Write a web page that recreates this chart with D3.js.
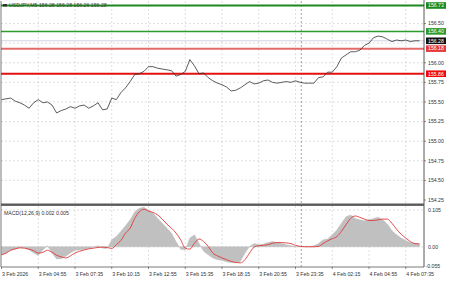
<!DOCTYPE html>
<html><head><meta charset="utf-8">
<script src="https://cdn.jsdelivr.net/npm/d3@7"></script>
<style>html,body{margin:0;padding:0;background:#fff;overflow:hidden}</style>
</head><body><svg id="c" width="450" height="281"></svg>
<script>
// ---------------- DATA ----------------
const symbolTitle = "USDJPY,M5  156.28 156.28 156.26 156.28";
const macdTitle = "MACD(12,26,9) 0.002 0.005";
const sampleStep = 4;          // 5-minute bars per sample
const barsPerLabel = 32;       // bars between time labels
const timeLabels = ["3 Feb 2026","3 Feb 04:55","3 Feb 07:35","3 Feb 10:15","3 Feb 12:55","3 Feb 15:35",
                    "3 Feb 18:15","3 Feb 20:55","3 Feb 23:35","4 Feb 02:15","4 Feb 04:55","4 Feb 07:35"];
const daySeparatorBar = 261;

const priceValues = [
 155.53,155.54,155.55,155.51,155.49,155.46,155.42,155.49,155.53,155.49,
 155.50,155.46,155.36,155.39,155.41,155.44,155.42,155.45,155.46,155.42,
 155.45,155.49,155.40,155.41,155.55,155.53,155.62,155.68,155.76,155.85,
 155.86,155.89,155.95,155.95,155.93,155.92,155.91,155.90,155.83,155.85,
 155.89,156.04,155.96,155.86,155.87,155.81,155.77,155.74,155.72,155.69,
 155.64,155.65,155.68,155.72,155.76,155.73,155.74,155.77,155.78,155.75,
 155.74,155.75,155.76,155.75,155.77,155.75,155.74,155.74,155.74,155.81,
 155.82,155.88,155.88,155.95,156.06,156.10,156.14,156.14,156.16,156.22,
 156.25,156.32,156.34,156.33,156.30,156.27,156.29,156.28,156.29,156.27,
 156.28,156.28
];
const macdHist = [
 -0.023,-0.018,-0.010,-0.007,-0.002,-0.003,-0.009,-0.018,-0.025,-0.009,
 0.003,-0.018,-0.035,-0.034,-0.027,-0.018,-0.010,-0.009,-0.007,-0.004,
 -0.001,0.003,-0.004,-0.005,0.020,0.029,0.044,0.060,0.077,0.100,
 0.110,0.113,0.105,0.096,0.081,0.067,0.053,0.039,0.015,-0.007,
 -0.009,0.025,0.034,0.010,-0.013,-0.023,-0.032,-0.037,-0.039,-0.043,
 -0.045,-0.046,-0.042,-0.018,0.001,0.009,0.006,0.008,0.012,0.015,
 0.012,0.009,0.006,0.003,0.001,0.000,0.001,0.001,0.003,0.009,
 0.020,0.022,0.034,0.048,0.067,0.086,0.091,0.081,0.077,0.074,
 0.077,0.081,0.084,0.077,0.065,0.046,0.034,0.025,0.018,0.012,
 0.009,0.008
];
const macdSignal = [
 -0.023,-0.018,-0.010,-0.006,-0.003,-0.004,-0.007,-0.011,-0.018,-0.016,
 -0.010,-0.016,-0.024,-0.029,-0.032,-0.026,-0.018,-0.013,-0.009,-0.006,
 -0.004,-0.002,-0.001,-0.002,-0.005,0.006,0.018,0.039,0.053,0.081,
 0.100,0.107,0.102,0.098,0.091,0.079,0.065,0.053,0.039,0.020,
 -0.004,-0.007,0.010,0.022,0.015,0.001,-0.018,-0.026,-0.032,-0.037,
 -0.042,-0.045,-0.046,-0.037,-0.018,-0.001,0.003,0.004,0.006,0.010,
 0.012,0.012,0.011,0.009,0.004,0.001,0.000,0.000,0.000,0.001,
 0.009,0.017,0.023,0.029,0.044,0.063,0.081,0.088,0.084,0.079,
 0.075,0.075,0.077,0.079,0.079,0.067,0.050,0.036,0.025,0.015,
 0.009,0.008
];
const priceTickValues = [156.50,156.00,155.75,155.50,155.25,155.00,154.75,154.50,154.25];
const priceTickLabels = ["156.50","156.00","155.75","155.50","155.25","155.00","154.75","154.50","154.25"];
const gridPrices = [156.50,156.25,156.00,155.75,155.50,155.25,155.00,154.75,154.50];
const resistancePrices = [156.73,156.40];
const supportPrices = [156.18,155.86];
const lastPrice = 156.28;
const macdTickValues = [0.105,0.0,-0.055];
const macdTickLabels = ["0.105","0.00","-0.055"];

// ---------------- LAYOUT ----------------
const svg = d3.select("#c");
const FONT = "'Liberation Sans', Arial, sans-serif";
const plotL = 1, plotR = 424;
const mainTop = 1, mainBot = 203.5;
const macdTop = 206, macdBot = 267;

const x = d3.scaleLinear().domain([0, 384]).range([1.5, 1.5 + 36.75*12]);
const y = d3.scaleLinear().domain([154.25, 156.73]).range([200, 5.5]);
const ym = d3.scaleLinear().domain([-0.055, 0.105]).range([266, 210]);

svg.append("rect").attr("width",450).attr("height",281).attr("fill","#fff");

const defs = svg.append("defs");
defs.append("clipPath").attr("id","cm").append("rect")
  .attr("x",plotL).attr("y",mainTop).attr("width",plotR-plotL).attr("height",mainBot-mainTop);
defs.append("clipPath").attr("id","cd").append("rect")
  .attr("x",plotL).attr("y",macdTop).attr("width",plotR-plotL).attr("height",macdBot-macdTop);

// vertical grid
const tickBars = timeLabels.map((d,i)=>i*barsPerLabel);
const grid = svg.append("g").attr("stroke","#c9c9c9").attr("stroke-width",0.6).attr("stroke-dasharray","2,2");
tickBars.forEach(b=>{
  if (b===0) return;
  grid.append("line").attr("x1",x(b)).attr("x2",x(b)).attr("y1",mainTop).attr("y2",mainBot);
  grid.append("line").attr("x1",x(b)).attr("x2",x(b)).attr("y1",macdTop).attr("y2",macdBot);
});
// horizontal grid main
gridPrices.forEach(p=>{
  grid.append("line").attr("x1",plotL).attr("x2",plotR).attr("y1",y(p)).attr("y2",y(p));
});
// macd zero & top grid
[0.105,0.0].forEach(v=>{
  grid.append("line").attr("x1",plotL).attr("x2",plotR).attr("y1",ym(v)).attr("y2",ym(v));
});

// day separator
svg.append("line").attr("x1",x(daySeparatorBar)).attr("x2",x(daySeparatorBar))
  .attr("y1",mainTop).attr("y2",macdBot)
  .attr("stroke","#777").attr("stroke-width",0.7).attr("stroke-dasharray","2,2");

// current price line
svg.append("line").attr("x1",plotL).attr("x2",plotR).attr("y1",y(lastPrice)).attr("y2",y(lastPrice))
  .attr("stroke","#c4c6d4").attr("stroke-width",0.8);

// level lines
const resColors = ["#1d8a1d","#2c9a2c"], resW=[2,1.5];
resistancePrices.forEach((p,i)=>{
  svg.append("line").attr("x1",plotL).attr("x2",plotR).attr("y1",y(p)).attr("y2",y(p))
    .attr("stroke",resColors[i]).attr("stroke-width",resW[i]);
});
const supColors = ["#e46a6a","#e41010"];
supportPrices.forEach((p,i)=>{
  svg.append("line").attr("x1",plotL).attr("x2",plotR).attr("y1",y(p)).attr("y2",y(p))
    .attr("stroke",supColors[i]).attr("stroke-width",2);
});

// price line
const pts = priceValues.map((v,i)=>[i*sampleStep, v]);
svg.append("path").attr("clip-path","url(#cm)")
  .attr("d", d3.line().x(d=>x(d[0])).y(d=>y(d[1]))(pts))
  .attr("fill","none").attr("stroke","#333").attr("stroke-width",0.8);

// MACD histogram as area
const hpts = macdHist.map((v,i)=>[i*sampleStep, v]);
svg.append("path").attr("clip-path","url(#cd)")
  .attr("d", d3.area().x(d=>x(d[0])).y0(ym(0)).y1(d=>ym(d[1]))(hpts))
  .attr("fill","#c0c0c0").attr("stroke","#b8b8b8").attr("stroke-width",0.4);
const spts = macdSignal.map((v,i)=>[i*sampleStep, v]);
svg.append("path").attr("clip-path","url(#cd)")
  .attr("d", d3.line().curve(d3.curveMonotoneX).x(d=>x(d[0])).y(d=>ym(d[1]))(spts))
  .attr("fill","none").attr("stroke","#e03a3a").attr("stroke-width",0.9);

// frames
svg.append("line").attr("x1",plotL).attr("x2",plotL).attr("y1",mainTop).attr("y2",macdBot).attr("stroke","#555").attr("stroke-width",0.8);
svg.append("line").attr("x1",plotR).attr("x2",plotR).attr("y1",0).attr("y2",macdBot).attr("stroke","#444").attr("stroke-width",0.9);
svg.append("rect").attr("x",plotL).attr("y",mainBot).attr("width",plotR-plotL).attr("height",2.4).attr("fill","#5a5a5a");
svg.append("line").attr("x1",plotL).attr("x2",plotR).attr("y1",macdBot).attr("y2",macdBot).attr("stroke","#555").attr("stroke-width",0.8);

// price axis labels
const axG = svg.append("g").attr("font-family",FONT).attr("font-size",5.2).attr("fill","#333");
priceTickValues.forEach((p,i)=>{
  axG.append("line").attr("x1",plotR).attr("x2",plotR+2).attr("y1",y(p)).attr("y2",y(p)).attr("stroke","#444").attr("stroke-width",0.6);
  axG.append("text").attr("x",428).attr("y",y(p)).attr("dy","0.35em").text(priceTickLabels[i]);
});
// level boxes
function box(p, fill, label){
  const g = svg.append("g");
  g.append("rect").attr("x",426).attr("y",y(p)-3.3).attr("width",20).attr("height",6.6).attr("fill",fill);
  g.append("text").attr("x",428).attr("y",y(p)).attr("dy","0.35em").attr("font-family",FONT)
    .attr("font-size",5.2).attr("fill","#fff").text(label);
}
box(resistancePrices[0], "#1d8a1d", resistancePrices[0].toFixed(2));
box(resistancePrices[1], "#2c9a2c", resistancePrices[1].toFixed(2));
box(lastPrice, "#111", lastPrice.toFixed(2));
box(supportPrices[0], "#e43a3a", supportPrices[0].toFixed(2));
box(supportPrices[1], "#ee0a0a", supportPrices[1].toFixed(2));

// macd axis labels
macdTickValues.forEach((v,i)=>{
  axG.append("text").attr("x", i===2?425.5:428).attr("y",ym(v)).attr("dy","0.35em").text(macdTickLabels[i]);
});

// time labels
tickBars.forEach((b,i)=>{
  axG.append("line").attr("x1",x(b)).attr("x2",x(b)).attr("y1",macdBot).attr("y2",macdBot+2).attr("stroke","#444").attr("stroke-width",0.6);
  axG.append("text").attr("x",x(b)+0.5).attr("y",274).attr("dy","0.35em").text(timeLabels[i]);
});

// titles
svg.append("rect").attr("x",3).attr("y",4).attr("width",4).attr("height",2.5).attr("fill","#333");
svg.append("text").attr("x",9).attr("y",5.5).attr("dy","0.35em").attr("font-family",FONT)
  .attr("font-size",5.2).attr("fill","#444").text(symbolTitle);
svg.append("text").attr("x",4).attr("y",213).attr("dy","0.35em").attr("font-family",FONT)
  .attr("font-size",5.2).attr("fill","#333").text(macdTitle);
</script></body></html>
